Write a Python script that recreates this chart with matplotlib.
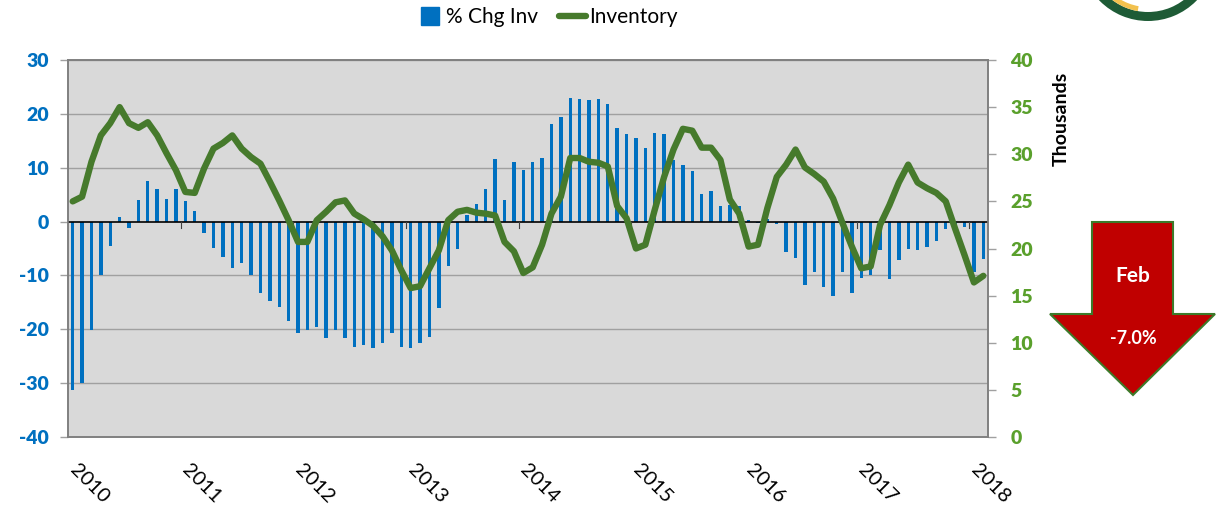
import matplotlib
matplotlib.use("Agg")
import matplotlib.pyplot as plt
import numpy as np
from matplotlib.patches import Polygon, Wedge
from matplotlib.lines import Line2D
from matplotlib.transforms import IdentityTransform

plt.rcParams['font.family'] = ['Lato', 'DejaVu Sans']

# Monthly data, Jan 2010 .. Feb 2018
pct_chg_inv = [
    -31.2, -30.0, -20.1, -9.9, -4.6, 0.9, -1.2, 4.0, 7.5, 6.0, 4.2, 6.0,      # 2010
    3.8, 2.0, -2.2, -4.9, -6.5, -8.6, -7.7, -9.9, -13.3, -14.8, -15.8, -18.5,  # 2011
    -20.7, -20.1, -19.5, -21.6, -20.1, -21.6, -23.2, -22.9, -23.5, -22.6, -20.7, -23.2,  # 2012
    -23.5, -22.6, -21.5, -16.1, -8.2, -5.1, 1.2, 3.3, 6.0, 11.6, 4.0, 11.1,   # 2013
    9.5, 11.1, 11.8, 18.1, 19.4, 23.0, 22.8, 22.5, 22.8, 21.8, 17.4, 16.3,    # 2014
    15.6, 13.6, 16.5, 16.3, 11.4, 10.5, 9.3, 5.1, 5.6, 2.9, 3.0, 2.9,         # 2015
    0.3, -0.2, 0.5, -0.4, -5.6, -6.8, -11.7, -9.3, -12.2, -13.9, -9.3, -13.3, # 2016
    -10.5, -9.9, -5.3, -10.7, -7.1, -5.1, -5.3, -4.8, -3.7, -1.3, -1.0, -1.0, # 2017
    -9.3, -7.0,                                                               # 2018
]
inventory_k = [
    25.0, 25.5, 29.2, 32.0, 33.3, 35.0, 33.3, 32.8, 33.4, 32.0, 30.1, 28.3,
    26.0, 25.9, 28.5, 30.6, 31.2, 32.0, 30.6, 29.7, 29.0, 27.1, 25.1, 23.0,
    20.7, 20.7, 23.0, 23.9, 24.9, 25.1, 23.7, 23.1, 22.4, 21.3, 19.8, 17.7,
    15.8, 16.0, 17.9, 19.8, 23.0, 23.9, 24.1, 23.8, 23.7, 23.5, 20.7, 19.7,
    17.4, 18.0, 20.4, 23.7, 25.5, 29.6, 29.6, 29.2, 29.1, 28.7, 24.5, 23.2,
    20.0, 20.4, 24.1, 27.6, 30.5, 32.7, 32.5, 30.7, 30.7, 29.4, 25.2, 23.7,
    20.2, 20.4, 24.3, 27.6, 28.9, 30.5, 28.6, 27.9, 27.1, 25.3, 22.7, 20.2,
    17.9, 18.1, 22.5, 24.6, 27.0, 28.9, 27.0, 26.4, 25.9, 25.0, 22.1, 19.3,
    16.4, 17.1,
]
year_labels = ['2010', '2011', '2012', '2013', '2014', '2015', '2016', '2017', '2018']
left_ticks = [-40, -30, -20, -10, 0, 10, 20, 30]
right_ticks = [0, 5, 10, 15, 20, 25, 30, 35, 40]

W, H = 1216, 508
fig = plt.figure(figsize=(W / 100, H / 100), dpi=100)
ax = fig.add_axes([68 / W, 1 - 437 / H, (988 - 68) / W, (437 - 60) / H])
ax.set_facecolor('#D9D9D9')

n = len(pct_chg_inv)
x = np.arange(n)
ax.bar(x, pct_chg_inv, width=0.36, color='#0070C0', zorder=3)
ax.set_xlim(-0.5, n - 0.5)
ax.set_ylim(-40, 30)
ax.set_yticks(left_ticks)
ax.set_yticklabels([str(t) for t in left_ticks])
for t in left_ticks:
    if t != 0:
        ax.axhline(t, color='#A0A0A0', lw=1.0, zorder=1)
ax.axhline(0, color='black', lw=1.2, zorder=4)
ax.tick_params(axis='y', colors='#A0A0A0', labelcolor='#0070C0', length=6, width=1,
               labelsize=14, pad=8)
for lab in ax.get_yticklabels():
    lab.set_fontweight('heavy')

# year boundary tick marks on the zero line
year_starts = [12 * i for i in range(len(year_labels))]
for ys in year_starts[1:]:
    ax.plot([ys - 0.5, ys - 0.5], [0, -1.2], color='#404040', lw=0.8, zorder=4)

ax.set_xticks(year_starts)
ax.set_xticklabels(year_labels, rotation=-45, rotation_mode='anchor',
                   ha='left', va='center', fontsize=14.5)
ax.tick_params(axis='x', length=0, pad=22)

for s in ax.spines.values():
    s.set_color('#808080')
    s.set_linewidth(1.2)

ax2 = ax.twinx()
ax2.plot(x, inventory_k, color='#467A2C', lw=4.6, solid_joinstyle='round',
         solid_capstyle='round', zorder=5)
ax2.set_ylim(0, 40)
ax2.set_yticks(right_ticks)
ax2.set_yticklabels([str(t) for t in right_ticks])
ax2.tick_params(axis='y', colors='#A0A0A0', labelcolor='#5AA02C', length=6, width=1,
                labelsize=14, pad=10)
for lab in ax2.get_yticklabels():
    lab.set_fontweight('heavy')
for s in ax2.spines.values():
    s.set_color('#808080')
    s.set_linewidth(1.2)
ax2.set_ylabel('Thousands', fontsize=14, fontweight='bold', color='black')
ax2.yaxis.set_label_coords(1.07, 0.845)

# legend
handles = [
    Line2D([], [], marker='s', linestyle='none', markersize=13, color='#0070C0'),
    Line2D([], [], color='#467A2C', lw=4.6, solid_capstyle='round'),
]
fig.legend(handles, ['% Chg Inv', 'Inventory'], loc='center',
           bbox_to_anchor=(547 / W, 1 - 17 / H), ncol=2, frameon=False,
           fontsize=15, handlelength=1.3, handletextpad=0.15, columnspacing=1.0)

# red arrow
pts = [(1050, 314), (1092, 314), (1092, 222), (1173, 222), (1173, 314), (1215, 314), (1133, 395)]
arrow = Polygon([(px / W, 1 - py / H) for px, py in pts], closed=True,
                transform=fig.transFigure, facecolor='#C00000', edgecolor='#3C7A2A', lw=1.5)
fig.add_artist(arrow)
fig.text(1133 / W, 1 - 276 / H, 'Feb', color='white', fontsize=15, fontweight='bold',
         ha='center', va='center')
fig.text(1133 / W, 1 - 338 / H, '-7.0%', color='white', fontsize=13, fontweight='bold',
         ha='center', va='center')

# partial logo ring at top right (display-pixel coordinates)
cx, cy = 1148, H + 47
fig.add_artist(Wedge((cx, cy), 68, 0, 360, width=9, transform=IdentityTransform(),
                     facecolor='#1E5B36', edgecolor='none'))
fig.add_artist(Wedge((cx, cy), 59, 215, 260, width=5, transform=IdentityTransform(),
                     facecolor='#F2C14E', edgecolor='none'))

fig.savefig('out.png', dpi=100)
